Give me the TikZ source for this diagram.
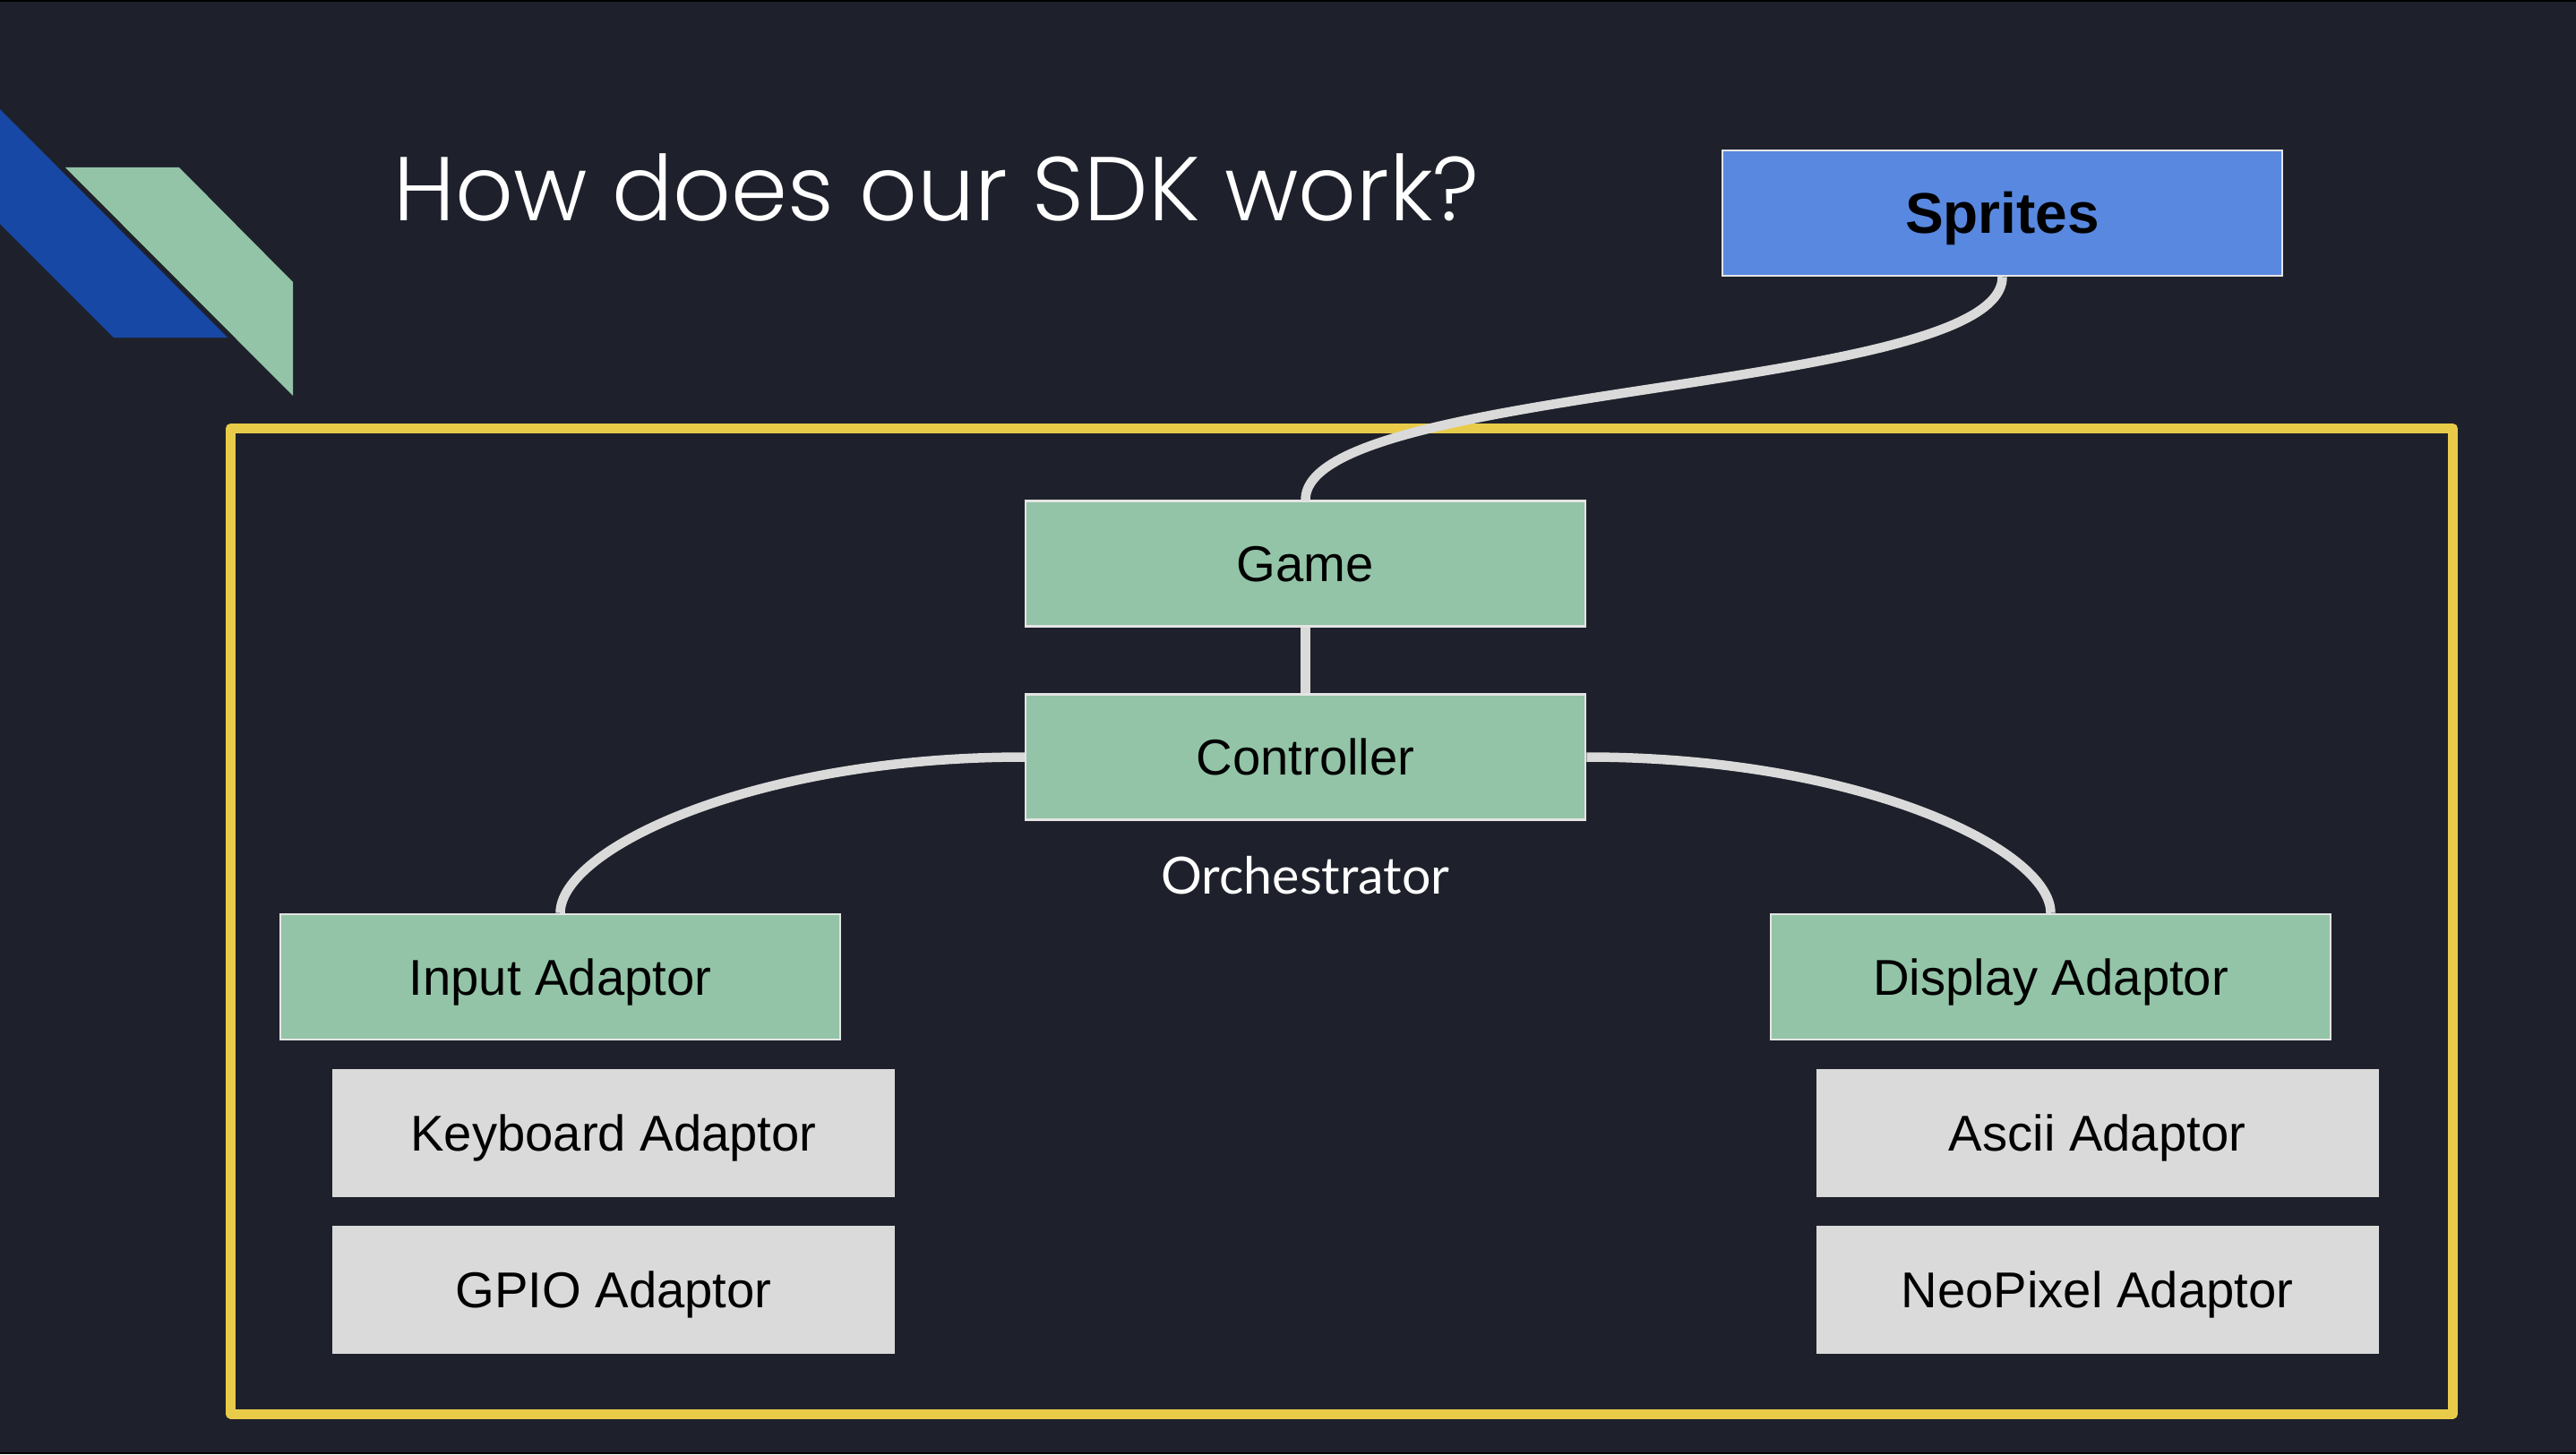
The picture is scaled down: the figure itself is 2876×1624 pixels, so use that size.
\documentclass[tikz,border=0pt]{standalone}
\usepackage{fontspec}
\setmainfont{Liberation Sans}
\newfontfamily\titlefont{Poppins Light}
\newfontfamily\notefont{Lato}
\usepackage{tikz}
\usetikzlibrary{positioning,calc,shapes}

\definecolor{slidebg}{HTML}{1E212B}
\definecolor{sdkgreen}{HTML}{93C4A7}
\definecolor{sdkblue}{HTML}{5888E0}
\definecolor{logoblue}{HTML}{1848A6}
\definecolor{framegold}{HTML}{E9CB4A}
\definecolor{linkgray}{HTML}{DADADA}
\definecolor{edgegray}{HTML}{E4E4E4}

\tikzset{
  layer/.style={draw=edgegray, line width=0.25mm, fill=sdkgreen, minimum width=62.5mm, minimum height=14.0mm,
    inner sep=0pt, text height=11.4pt, text depth=0pt, font=\fontsize{16pt}{19pt}\selectfont},
  adaptor/.style={fill=linkgray, minimum width=62.8mm, minimum height=14.3mm,
    inner sep=0pt, text height=11.4pt, text depth=0pt, font=\fontsize{16pt}{19pt}\selectfont},
  asset/.style={layer, fill=sdkblue, text height=13pt, font=\bfseries\fontsize{18.2pt}{22pt}\selectfont},
  link/.style={draw=linkgray, line width=1.05mm},
}

\begin{document}
\begin{tikzpicture}[x=0.1mm, y=-0.1mm]
% slide
\fill [slidebg] (0,0) rectangle (2876,1624);
\fill [black] (0,0) rectangle (2876,2);
\fill [black] (0,1622) rectangle (2876,1624);
\useasboundingbox (0,0) rectangle (2876,1624);

% logo
\fill [logoblue] (0,122) -- (254,377) -- (127,377) -- (0,250) -- cycle;
\fill [sdkgreen] (73,187) -- (200,187) -- (327,315) -- (327,442) -- cycle;

\node [anchor=base west, inner sep=0pt, text=white, font=\titlefont\fontsize{28.8pt}{34pt}\selectfont] (title) at (439,247) {How does our SDK work?};

% sdk frame
\draw [framegold, line width=1.1mm, line join=round] (257.5,478.5) rectangle (2738.5,1579);

\node [asset] (sprites) at (2235.5,238) {Sprites};

\node [layer] (game) at (1457.5,629.5) {Game};
\node [layer] (ctrl) at (1457.5,845.5) {Controller};
\node [anchor=base, inner sep=0pt, text=white, font=\notefont\fontsize{16.3pt}{19pt}\selectfont] (orch) at (1457.5,998) {Orchestrator};

\node [layer] (input) at (625.5,1091) {Input Adaptor};
\node [layer] (display) at (2289.5,1091) {Display Adaptor};

\node [adaptor] (keyboard) at (685,1265.5) {Keyboard Adaptor};
\node [adaptor] (gpio) at (685,1440.5) {GPIO Adaptor};
\node [adaptor] (ascii) at (2341.5,1265.5) {Ascii Adaptor};
\node [adaptor] (neopixel) at (2341.5,1440.5) {NeoPixel Adaptor};

% connectors
\draw [link] (sprites.south) .. controls +(0,130) and +(0,-130) .. (game.north);
\draw [link] (game.south) -- (ctrl.north);
\draw [link] (ctrl.west) .. controls +(-305,0) and +(0,-71) .. (input.north);
\draw [link] (ctrl.east) .. controls +(305,0) and +(0,-71) .. (display.north);
\end{tikzpicture}
\end{document}
